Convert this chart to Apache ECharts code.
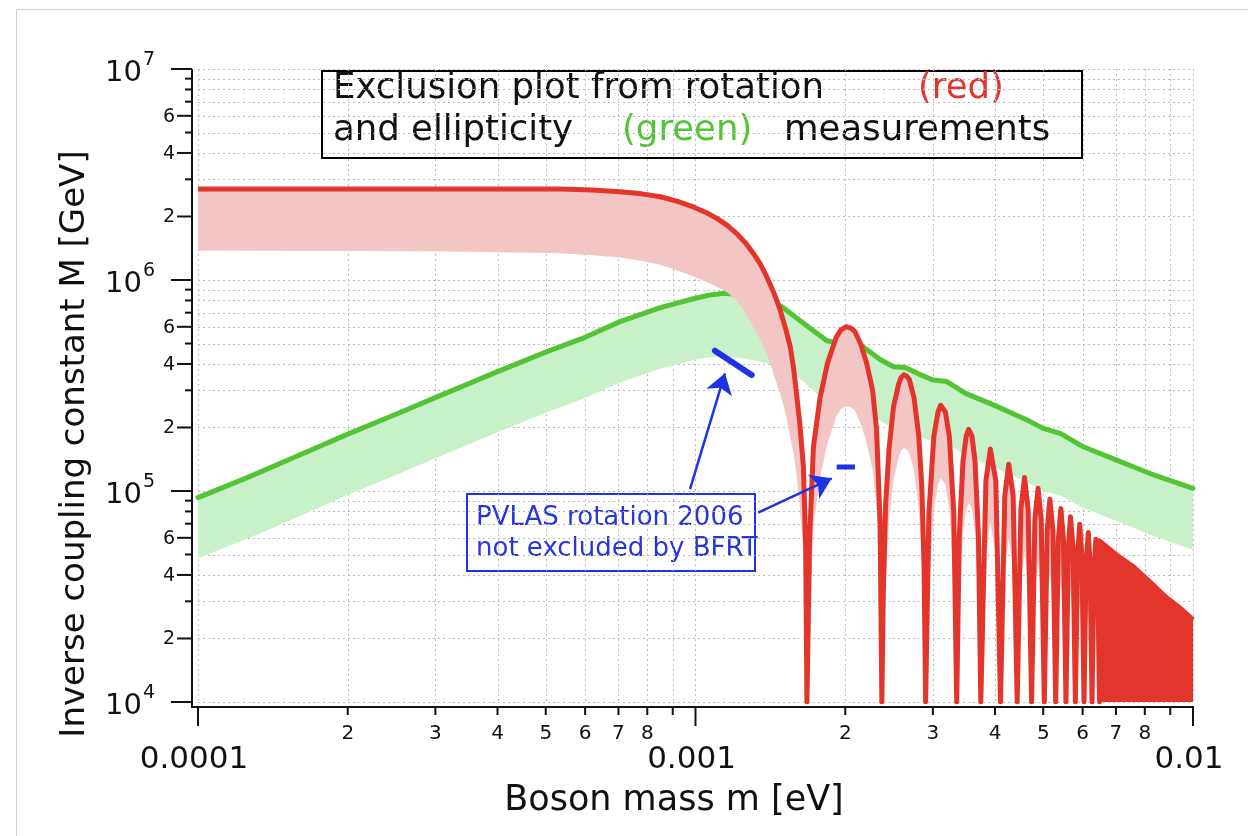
<!DOCTYPE html>
<html>
<head>
<meta charset="utf-8">
<script src="https://cdn.jsdelivr.net/npm/echarts@6.0.0/dist/echarts.min.js"></script>
<style>
  html, body { margin: 0; padding: 0; background: #ffffff; }
  #chart { width: 1248px; height: 836px; }
</style>
</head>
<body>
<div id="chart"></div>
<script>
// ---------- tick definitions ----------
const xMajor = [0.0001, 0.001, 0.01];
const xMajorLabels = ['0.0001', '0.001', '0.01'];
const xMinor = [0.0002, 0.0003, 0.0004, 0.0005, 0.0006, 0.0007, 0.0008, 0.0009,
                0.002, 0.003, 0.004, 0.005, 0.006, 0.007, 0.008, 0.009];
const xMinorLabels = ['2', '3', '4', '5', '6', '7', '8', '',
                      '2', '3', '4', '5', '6', '7', '8', ''];
const yMajor = [1e4, 1e5, 1e6, 1e7];
const yMajorExp = ['4', '5', '6', '7'];
const yMinor = [2e4, 3e4, 4e4, 5e4, 6e4, 7e4, 8e4, 9e4,
                2e5, 3e5, 4e5, 5e5, 6e5, 7e5, 8e5, 9e5,
                2e6, 3e6, 4e6, 5e6, 6e6, 7e6, 8e6, 9e6];
const yMinorLabels = ['2', '', '4', '', '6', '', '', '',
                      '2', '', '4', '', '6', '', '', '',
                      '2', '', '4', '', '6', '', '', ''];

// ---------- rotation (red): [mass eV, upper M GeV, lower M GeV] ----------
const redBand = [
  [1.0e-4, 2.70e6, 1.38e6], [3.0e-4, 2.70e6, 1.37e6], [5.34e-4, 2.70e6, 1.34e6],
  [6.2e-4, 2.67e6, 1.31e6], [7.05e-4, 2.62e6, 1.28e6], [7.8e-4, 2.56e6, 1.23e6],
  [8.5e-4, 2.48e6, 1.18e6], [9.2e-4, 2.36e6, 1.11e6], [9.9e-4, 2.22e6, 1.04e6],
  [1.05e-3, 2.09e6, 9.8e5], [1.104e-3, 1.96e6, 9.3e5], [1.16e-3, 1.81e6, 8.7e5],
  [1.21e-3, 1.66e6, 8.0e5], [1.26e-3, 1.50e6, 7.0e5], [1.306e-3, 1.34e6, 6.0e5],
  [1.35e-3, 1.19e6, 5.2e5], [1.39e-3, 1.04e6, 4.5e5], [1.44e-3, 8.6e5, 3.5e5],
  [1.48e-3, 7.2e5, 2.9e5], [1.52e-3, 5.8e5, 2.3e5], [1.55e-3, 4.83e5, 1.8e5],
  [1.575e-3, 3.8e5, 1.5e5], [1.596e-3, 2.9e5, 1.2e5], [1.62e-3, 2.1e5, 8.5e4],
  [1.648e-3, 1.3e5, 5.0e4], [1.665e-3, 5.5e4, 2.2e4], [1.675e-3, 1.0e4, 1.0e4],
  [1.696e-3, 6.0e4, 2.5e4], [1.726e-3, 1.62e5, 6.8e4], [1.779e-3, 2.75e5, 1.15e5],
  [1.842e-3, 4.03e5, 1.69e5], [1.918e-3, 5.35e5, 2.25e5], [1.96e-3, 5.8e5, 2.45e5],
  [2.006e-3, 6.0e5, 2.52e5], [2.05e-3, 5.93e5, 2.5e5], [2.091e-3, 5.7e5, 2.4e5],
  [2.15e-3, 4.95e5, 2.08e5], [2.208e-3, 4.03e5, 1.69e5], [2.27e-3, 3.0e5, 1.26e5],
  [2.312e-3, 1.95e5, 8.2e4], [2.35e-3, 7.0e4, 2.9e4], [2.369e-3, 1.0e4, 1.0e4],
  [2.385e-3, 3.3e4, 1.5e4], [2.41e-3, 8.5e4, 3.8e4], [2.45e-3, 1.6e5, 7.2e4],
  [2.50e-3, 2.5e5, 1.12e5], [2.56e-3, 3.21e5, 1.44e5], [2.59e-3, 3.45e5, 1.55e5],
  [2.624e-3, 3.55e5, 1.6e5], [2.66e-3, 3.5e5, 1.57e5], [2.69e-3, 3.38e5, 1.52e5],
  [2.75e-3, 2.76e5, 1.24e5], [2.81e-3, 1.83e5, 8.2e4], [2.85e-3, 1.06e5, 4.8e4],
  [2.88e-3, 4.5e4, 2.0e4], [2.901e-3, 1.0e4, 1.0e4],
  [2.946e-3, 7.9e4, 3.6e4], [3.013e-3, 1.81e5, 8.1e4], [3.072e-3, 2.37e5, 1.07e5],
  [3.11e-3, 2.55e5, 1.15e5], [3.179e-3, 2.37e5, 1.07e5], [3.238e-3, 1.81e5, 8.1e4],
  [3.305e-3, 7.9e4, 3.6e4], [3.350e-3, 1.0e4, 1.0e4],
  [3.390e-3, 6.1e4, 2.7e4], [3.449e-3, 1.39e5, 6.3e4], [3.500e-3, 1.82e5, 8.2e4],
  [3.54e-3, 1.96e5, 8.8e4], [3.595e-3, 1.82e5, 8.2e4], [3.646e-3, 1.39e5, 6.3e4],
  [3.705e-3, 6.1e4, 2.7e4], [3.745e-3, 1.0e4, 1.0e4],
  [3.835e-3, 1.12e5, 5.0e4], [3.915e-3, 1.58e5, 7.1e4], [4.014e-3, 1.12e5, 5.0e4],
  [4.103e-3, 1.0e4, 1.0e4],
  [4.185e-3, 9.5e4, 4.3e4], [4.262e-3, 1.34e5, 6.0e4], [4.350e-3, 9.5e4, 4.3e4],
  [4.432e-3, 1.0e4, 1.0e4],
  [4.509e-3, 8.2e4, 3.7e4], [4.585e-3, 1.16e5, 5.2e4], [4.662e-3, 8.2e4, 3.7e4],
  [4.738e-3, 1.0e4, 1.0e4],
  [4.810e-3, 7.3e4, 3.3e4], [4.882e-3, 1.03e5, 4.6e4], [4.953e-3, 7.3e4, 3.3e4],
  [5.025e-3, 1.0e4, 1.0e4],
  [5.093e-3, 6.5e4, 2.9e4], [5.155e-3, 9.15e4, 4.1e4], [5.229e-3, 6.5e4, 2.9e4],
  [5.297e-3, 1.0e4, 1.0e4],
  [5.362e-3, 5.9e4, 2.6e4], [5.425e-3, 8.25e4, 3.7e4], [5.490e-3, 5.9e4, 2.6e4],
  [5.555e-3, 1.0e4, 1.0e4],
  [5.617e-3, 5.4e4, 2.4e4], [5.672e-3, 7.55e4, 3.4e4], [5.740e-3, 5.4e4, 2.4e4],
  [5.802e-3, 1.0e4, 1.0e4],
  [5.861e-3, 4.9e4, 2.2e4], [5.92e-3, 6.95e4, 3.1e4], [5.980e-3, 4.9e4, 2.2e4],
  [6.039e-3, 1.0e4, 1.0e4],
  [6.096e-3, 4.5e4, 2.0e4], [6.16e-3, 6.35e4, 2.9e4], [6.210e-3, 4.5e4, 2.0e4],
  [6.267e-3, 1.0e4, 1.0e4],
  [6.322e-3, 4.2e4, 1.9e4], [6.38e-3, 5.9e4, 2.65e4], [6.432e-3, 4.2e4, 1.9e4],
  [6.487e-3, 1.0e4, 1.0e4]
];
// densely oscillating part, drawn as a filled envelope: [mass, upper, lower]
const redSolid = [
  [6.487e-3, 5.8e4, 1e4], [7.0e-3, 5.0e4, 1e4], [7.59e-3, 4.37e4, 1e4],
  [8.2e-3, 3.7e4, 1e4], [8.79e-3, 3.16e4, 1e4], [9.4e-3, 2.8e4, 1e4],
  [1.0e-2, 2.45e4, 1e4]
];

// ---------- ellipticity (green): [mass eV, upper M GeV, lower M GeV] ----------
const greenBand = [
  [1.0e-4, 9.3e4, 4.8e4], [1.27e-4, 1.17e5, 6.0e4], [1.6e-4, 1.48e5, 7.6e4],
  [2.0e-4, 1.86e5, 9.6e4], [2.5e-4, 2.31e5, 1.19e5], [3.0e-4, 2.77e5, 1.43e5],
  [4.0e-4, 3.68e5, 1.9e5], [5.0e-4, 4.55e5, 2.35e5], [6.0e-4, 5.35e5, 2.76e5],
  [7.05e-4, 6.35e5, 3.27e5], [8.5e-4, 7.4e5, 3.8e5], [9.9e-4, 8.15e5, 4.18e5],
  [1.07e-3, 8.5e5, 4.3e5], [1.14e-3, 8.65e5, 4.35e5], [1.25e-3, 8.5e5, 4.25e5],
  [1.35e-3, 8.1e5, 4.1e5], [1.49e-3, 7.48e5, 3.9e5], [1.648e-3, 6.24e5, 3.3e5],
  [1.837e-3, 5.15e5, 2.6e5], [2.0e-3, 4.95e5, 2.52e5], [2.17e-3, 4.83e5, 2.45e5],
  [2.35e-3, 4.2e5, 2.15e5], [2.5e-3, 3.88e5, 1.98e5], [2.64e-3, 3.85e5, 1.96e5],
  [2.8e-3, 3.6e5, 1.83e5], [3.0e-3, 3.36e5, 1.71e5], [3.2e-3, 3.3e5, 1.68e5],
  [3.49e-3, 2.9e5, 1.48e5], [3.97e-3, 2.56e5, 1.3e5], [4.64e-3, 2.17e5, 1.1e5],
  [5.0e-3, 1.98e5, 1.0e5], [5.42e-3, 1.87e5, 9.5e4], [6.02e-3, 1.62e5, 8.3e4],
  [7.02e-3, 1.40e5, 7.2e4], [8.2e-3, 1.21e5, 6.2e4], [1.0e-2, 1.03e5, 5.25e4]
];

// ---------- PVLAS marks and annotation arrows ----------
const pvlasRotation = [[1.094e-3, 4.62e5], [1.297e-3, 3.55e5]];
const pvlasSecond = [[1.922e-3, 1.30e5], [2.092e-3, 1.30e5]];
const arrowStarts = [[9.75e-4, 1.02e5], [1.336e-3, 7.89e4]];
const arrowEnds = [[1.146e-3, 3.61e5], [1.878e-3, 1.148e5]];

// ---------- styles ----------
const FONT = '"DejaVu Sans", "Liberation Sans", sans-serif';
const RED = '#e2352b', PINK = '#f3c5c5', GREEN = '#52c436', LIGHTGREEN = '#c9f1c9';
const BLUE = '#1f33e6', GRID = '#bdbdbd', INK = '#111111';

const chart = echarts.init(document.getElementById('chart'), null, { renderer: 'canvas' });

function bandRenderer(arr, color) {
  return function (params, api) {
    const pts = [];
    for (let i = 0; i < arr.length; i++) pts.push(api.coord([arr[i][0], arr[i][1]]));
    for (let i = arr.length - 1; i >= 0; i--) pts.push(api.coord([arr[i][0], arr[i][2]]));
    return { type: 'polygon', silent: true, shape: { points: pts }, style: { fill: color } };
  };
}

function axesRenderer(params, api) {
  const cs = params.coordSys;
  const left = cs.x, top = cs.y, right = cs.x + cs.width, bottom = cs.y + cs.height;
  const axX = left - 6, axY = bottom + 5;
  const xMin = xMajor[0], yMin = yMajor[0];
  const ch = [];
  const gridStyle = { stroke: GRID, lineWidth: 1, lineDash: [2, 3] };
  const ink = { stroke: INK, lineWidth: 2 };
  const xs = xMajor.concat(xMinor), ys = yMajor.concat(yMinor);
  xs.forEach(v => {
    const px = Math.round(api.coord([v, yMin])[0]) + 0.5;
    ch.push({ type: 'line', shape: { x1: px, y1: top, x2: px, y2: bottom }, style: gridStyle });
  });
  ys.forEach(v => {
    const py = Math.round(api.coord([xMin, v])[1]) + 0.5;
    ch.push({ type: 'line', shape: { x1: left, y1: py, x2: right, y2: py }, style: gridStyle });
  });
  // axis lines
  ch.push({ type: 'line', shape: { x1: axX, y1: axY, x2: right + 1, y2: axY }, style: ink });
  ch.push({ type: 'line', shape: { x1: axX, y1: top, x2: axX, y2: axY + 1 }, style: ink });
  // x ticks and labels
  xMajor.forEach((v, i) => {
    const px = api.coord([v, yMin])[0];
    ch.push({ type: 'line', shape: { x1: px, y1: axY, x2: px, y2: axY + 19 }, style: ink });
    ch.push({ type: 'text', style: { text: xMajorLabels[i], x: px - 4, y: axY + 53, fill: INK,
      font: '31px ' + FONT, align: 'center', verticalAlign: 'middle' } });
  });
  xMinor.forEach((v, i) => {
    const px = api.coord([v, yMin])[0];
    ch.push({ type: 'line', shape: { x1: px, y1: axY, x2: px, y2: axY + 8 }, style: ink });
    if (xMinorLabels[i]) ch.push({ type: 'text', style: { text: xMinorLabels[i], x: px, y: axY + 27,
      fill: INK, font: '20px ' + FONT, align: 'center', verticalAlign: 'middle' } });
  });
  // y ticks and labels
  yMajor.forEach((v, i) => {
    const py = api.coord([xMin, v])[1];
    ch.push({ type: 'line', shape: { x1: axX - 21, y1: py, x2: axX, y2: py }, style: ink });
    ch.push({ type: 'text', style: { text: '10', x: axX - 50, y: py + 4, fill: INK,
      font: '29px ' + FONT, align: 'right', verticalAlign: 'middle' } });
    ch.push({ type: 'text', style: { text: yMajorExp[i], x: axX - 49, y: py - 9, fill: INK,
      font: '19px ' + FONT, align: 'left', verticalAlign: 'middle' } });
  });
  yMinor.forEach((v, i) => {
    const py = api.coord([xMin, v])[1];
    const len = yMinorLabels[i] ? 15 : 7;
    ch.push({ type: 'line', shape: { x1: axX - len, y1: py, x2: axX, y2: py }, style: ink });
    if (yMinorLabels[i]) ch.push({ type: 'text', style: { text: yMinorLabels[i], x: axX - 17, y: py + 1,
      fill: INK, font: '19px ' + FONT, align: 'right', verticalAlign: 'middle' } });
  });
  return { type: 'group', silent: true, children: ch };
}

const redLine = redBand.map(d => [d[0], d[1]]).concat(redSolid.map(d => [d[0], d[1]]));
const greenLine = greenBand.map(d => [d[0], d[1]]);

const option = {
  animation: false,
  backgroundColor: '#ffffff',
  grid: { left: 198, right: 55, top: 69, bottom: 134, containLabel: false, outerBoundsMode: 'none' },
  xAxis: {
    type: 'log', logBase: 10, min: xMajor[0], max: xMajor[xMajor.length - 1],
    axisLine: { show: false }, axisTick: { show: false }, axisLabel: { show: false },
    splitLine: { show: false }, minorTick: { show: false }
  },
  yAxis: {
    type: 'log', logBase: 10, min: yMajor[0], max: yMajor[yMajor.length - 1],
    axisLine: { show: false }, axisTick: { show: false }, axisLabel: { show: false },
    splitLine: { show: false }, minorTick: { show: false }
  },
  series: [
    { type: 'custom', name: 'axes', z: 1, silent: true, renderItem: axesRenderer,
      data: [[xMajor[0], yMajor[0]]] },
    { type: 'custom', name: 'ellipticity band', z: 2, silent: true, clip: true,
      renderItem: bandRenderer(greenBand, LIGHTGREEN), data: [[greenBand[0][0], greenBand[0][1]]] },
    { type: 'line', name: 'ellipticity', z: 3, data: greenLine, symbol: 'none', clip: true,
      lineStyle: { color: GREEN, width: 5, join: 'round', cap: 'round' } },
    { type: 'custom', name: 'rotation band', z: 4, silent: true, clip: true,
      renderItem: bandRenderer(redBand, PINK), data: [[redBand[0][0], redBand[0][1]]] },
    { type: 'custom', name: 'rotation dense', z: 4, silent: true, clip: true,
      renderItem: bandRenderer(redSolid, RED), data: [[redSolid[0][0], redSolid[0][1]]] },
    { type: 'line', name: 'rotation', z: 5, data: redLine, symbol: 'none', clip: true,
      lineStyle: { color: RED, width: 5, join: 'round' } },
    { type: 'line', name: 'PVLAS 2006', z: 6, data: pvlasRotation, symbol: 'none',
      lineStyle: { color: BLUE, width: 6, cap: 'round' } },
    { type: 'line', name: 'PVLAS second', z: 6, data: pvlasSecond, symbol: 'none',
      lineStyle: { color: BLUE, width: 5, cap: 'butt' } },
    { type: 'lines', name: 'arrows', coordinateSystem: 'cartesian2d', z: 7, silent: true,
      data: arrowStarts.map((s, i) => ({ coords: [s, arrowEnds[i]] })),
      symbol: ['none', 'arrow'], symbolSize: 20,
      lineStyle: { color: BLUE, width: 2.5, opacity: 1 } }
  ],
  graphic: [
    { type: 'rect', z: 0, silent: true, shape: { x: 16.5, y: 9.5, width: 1400, height: 1000 },
      style: { fill: 'none', stroke: '#d2d2d2', lineWidth: 1 } },
    { type: 'group', z: 100, silent: true, children: [
      { type: 'rect', shape: { x: 322, y: 71, width: 760, height: 87 },
        style: { fill: '#ffffff', stroke: '#000000', lineWidth: 2 } },
      { type: 'text', style: { text: 'Exclusion plot from rotation', x: 333, y: 89, fill: INK,
        font: '35.5px ' + FONT, align: 'left', verticalAlign: 'middle' } },
      { type: 'text', style: { text: '(red)', x: 918, y: 89, fill: RED,
        font: '35.5px ' + FONT, align: 'left', verticalAlign: 'middle' } },
      { type: 'text', style: { text: 'and ellipticity', x: 333, y: 131, fill: INK,
        font: '35.5px ' + FONT, align: 'left', verticalAlign: 'middle' } },
      { type: 'text', style: { text: '(green)', x: 622, y: 131, fill: GREEN,
        font: '35.5px ' + FONT, align: 'left', verticalAlign: 'middle' } },
      { type: 'text', style: { text: 'measurements', x: 784, y: 131, fill: INK,
        font: '35.5px ' + FONT, align: 'left', verticalAlign: 'middle' } }
    ] },
    { type: 'group', z: 100, silent: true, children: [
      { type: 'rect', shape: { x: 467, y: 494, width: 288, height: 77 },
        style: { fill: '#ffffff', stroke: BLUE, lineWidth: 2 } },
      { type: 'text', style: { text: 'PVLAS rotation 2006', x: 476, y: 518, fill: '#2436d8',
        font: '26px ' + FONT, align: 'left', verticalAlign: 'middle' } },
      { type: 'text', style: { text: 'not excluded by BFRT', x: 476, y: 549, fill: '#2436d8',
        font: '26px ' + FONT, align: 'left', verticalAlign: 'middle' } }
    ] },
    { type: 'text', z: 100, silent: true, x: 75, y: 444, rotation: Math.PI / 2,
      style: { text: 'Inverse coupling constant M [GeV]', x: 0, y: 0, fill: INK,
        font: '34px ' + FONT, align: 'center', verticalAlign: 'middle' } },
    { type: 'text', z: 100, silent: true,
      style: { text: 'Boson mass m [eV]', x: 674, y: 801, fill: INK,
        font: '35px ' + FONT, align: 'center', verticalAlign: 'middle' } }
  ]
};
chart.setOption(option);
</script>
</body>
</html>
